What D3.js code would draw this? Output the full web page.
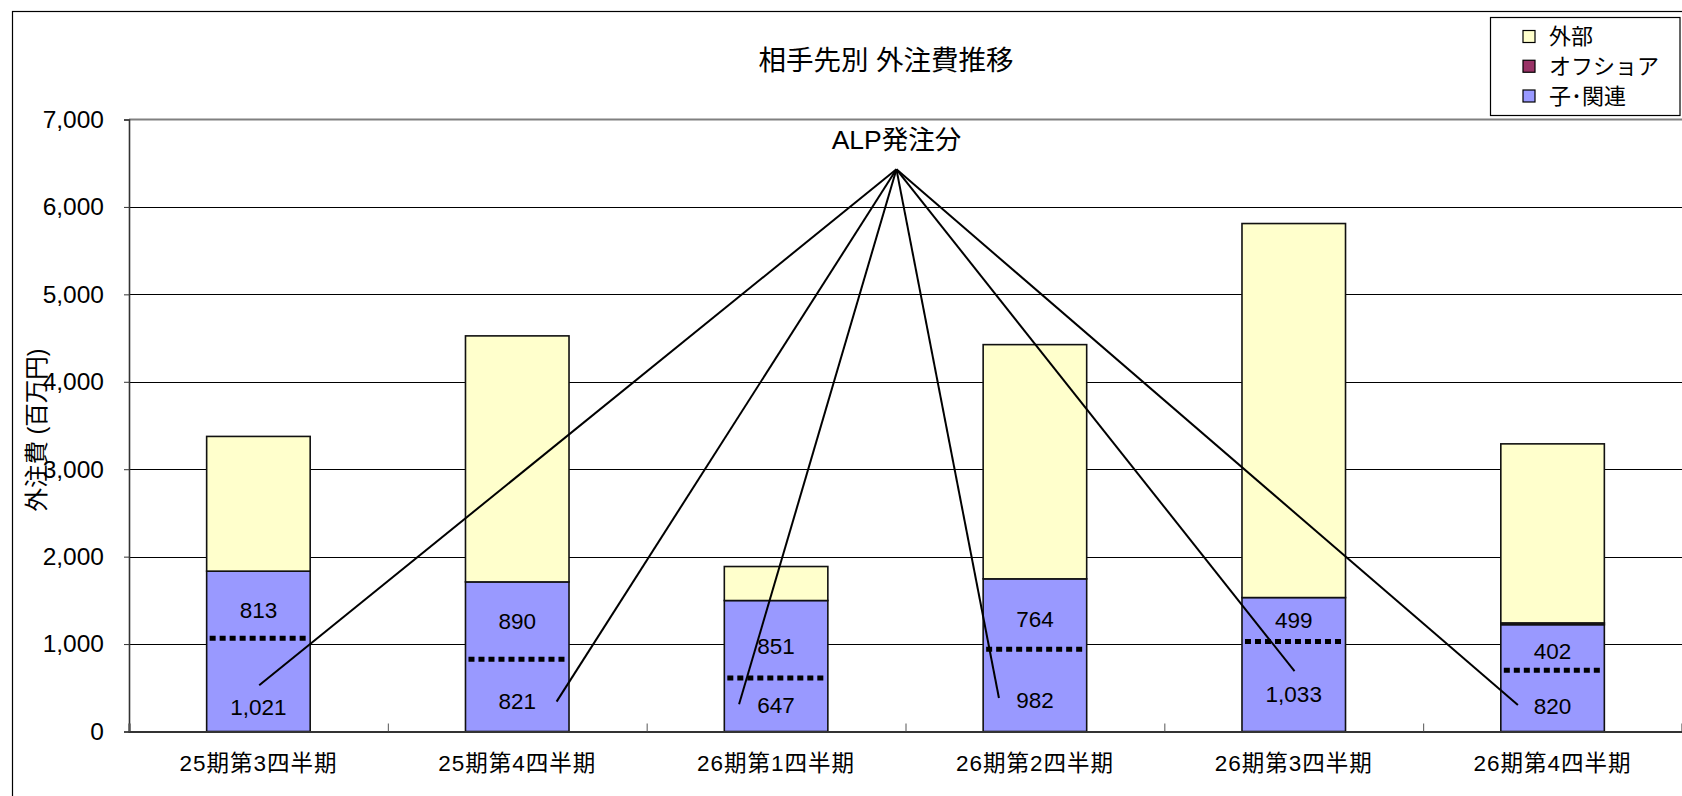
<!DOCTYPE html>
<html>
<head>
<meta charset="utf-8">
<script src="https://cdn.jsdelivr.net/npm/d3@7"></script>
<style>
  html, body { margin: 0; padding: 0; background: #fff; }
  svg { display: block; }
  text { font-family: "Liberation Sans", "Noto Sans CJK JP", sans-serif; fill: #000; }
</style>
</head>
<body>
<svg id="chart" width="1682" height="796"></svg>
<script>
// ---- data ----
const categories = ["25期第3四半期", "25期第4四半期", "26期第1四半期", "26期第2四半期", "26期第3四半期", "26期第4四半期"];
const kanrenALP   = [1021, 821, 647, 982, 1033, 820];   // 子･関連 (ALP発注分)
const kanrenOther = [813, 890, 851, 764, 499, 402];     // 子･関連 (その他)
const offshore    = [0, 0, 0, 0, 0, 20];                // オフショア
const gaibu       = [1541, 2814, 389, 2679, 4278, 2048];// 外部
const dividerVal  = [1068, 827, 612, 942, 1030, 700];   // dotted ALP dividers as drawn
const labelUpVal  = [1392, 1266, 972, 1285, 1270, 923]; // where the upper labels sit (value units)
const labelLowVal = [281, 342, 304, 362, 430, 293];     // where the lower labels sit (value units)
const yTicks = [0, 1000, 2000, 3000, 4000, 5000, 6000, 7000];
const seriesNames = ["外部", "オフショア", "子･関連"];
const title = "相手先別 外注費推移";
const yTitle = "外注費 (百万円)";
const annoText = "ALP発注分";
// annotation: leader-line ends (offset within band, value) and apex
const leaderDx  = [0.003, 0.152, -0.143, -0.139, 0.003, -0.134];
const leaderVal = [528, 342, 312, 383, 690, 302];
const apexPos = 2.965, apexVal = 6430, annoVal = 6770;

// ---- layout ----
const svg = d3.select("#chart");
const L = 129, R = 1682, T = 119.5, B = 731.5;
const colors = { kanren: "#9999FF", offshore: "#993366", gaibu: "#FFFFCC" };

const rows = categories.map((c, i) => ({
  cat: c, kanren: kanrenALP[i] + kanrenOther[i], offshore: offshore[i], gaibu: gaibu[i],
  alp: kanrenALP[i], other: kanrenOther[i], div: dividerVal[i],
  up: labelUpVal[i], low: labelLowVal[i]
}));

const x = d3.scaleBand().domain(categories).range([L, R]).paddingInner(0.6).paddingOuter(0.3);
const xLin = d3.scaleLinear().domain([0, categories.length]).range([L, R]);
const y = d3.scaleLinear().domain([0, 7000]).range([B, T]);

// outer frame
svg.append("rect").attr("x", 12.5).attr("y", 11.5).attr("width", 1700).attr("height", 800)
  .attr("fill", "none").attr("stroke", "#000").attr("stroke-width", 1.2);

// gridlines
svg.append("g").selectAll("line").data(yTicks.filter(d => d > 0 && d < 7000)).join("line")
  .attr("x1", L).attr("x2", R).attr("y1", d => Math.round(y(d)) + 0.5).attr("y2", d => Math.round(y(d)) + 0.5)
  .attr("stroke", "#000").attr("stroke-width", 1);
// plot area top border
svg.append("line").attr("x1", L).attr("x2", R).attr("y1", y(7000)).attr("y2", y(7000))
  .attr("stroke", "#808080").attr("stroke-width", 2);

// stacked bars
const stack = d3.stack().keys(["kanren", "offshore", "gaibu"]);
const stacked = stack(rows);
svg.append("g").selectAll("g").data(stacked).join("g")
  .attr("fill", d => colors[d.key])
  .selectAll("rect").data(d => d.filter(s => s[1] - s[0] > 0)).join("rect")
  .attr("x", d => x(d.data.cat))
  .attr("width", x.bandwidth())
  .attr("y", d => y(d[1]))
  .attr("height", d => y(d[0]) - y(d[1]))
  .attr("stroke", "#111").attr("stroke-width", 1.6);

// dotted separators (ALP portion)
svg.append("g").selectAll("line").data(rows).join("line")
  .attr("x1", d => x(d.cat) + 3).attr("x2", d => x(d.cat) + x.bandwidth() - 1)
  .attr("y1", d => y(d.div)).attr("y2", d => y(d.div))
  .attr("stroke", "#000").attr("stroke-width", 5).attr("stroke-dasharray", "6,4");

// axes
const yAxis = svg.append("g").attr("transform", `translate(${L},0)`)
  .call(d3.axisLeft(y).tickValues(yTicks).tickFormat(d3.format(",")).tickSize(5).tickPadding(20));
yAxis.select(".domain").attr("stroke", "#333").attr("stroke-width", 1.6);
yAxis.selectAll(".tick line").attr("stroke", "#333");
yAxis.selectAll("text").attr("font-size", 24.5);

const xTicksG = svg.append("g").attr("transform", `translate(0,${B})`)
  .call(d3.axisBottom(xLin).ticks(categories.length).tickSize(-8).tickFormat(""));
xTicksG.select(".domain").attr("stroke", "#333").attr("stroke-width", 2);
xTicksG.selectAll(".tick line").attr("stroke", "#555");

const xAxis = svg.append("g").attr("transform", `translate(0,${B})`)
  .call(d3.axisBottom(x).tickSize(0).tickPadding(24));
xAxis.select(".domain").remove();
xAxis.selectAll("text").attr("font-size", 22.5).attr("letter-spacing", 1);

// data labels
const lbl = svg.append("g").attr("font-size", 22.5).attr("text-anchor", "middle");
lbl.selectAll("text.up").data(rows).join("text").attr("class", "up")
  .attr("x", d => x(d.cat) + x.bandwidth() / 2)
  .attr("y", d => y(d.up)).attr("dy", "0.35em")
  .text(d => d3.format(",")(d.other));
lbl.selectAll("text.low").data(rows).join("text").attr("class", "low")
  .attr("x", d => x(d.cat) + x.bandwidth() / 2)
  .attr("y", d => y(d.low)).attr("dy", "0.35em")
  .text(d => d3.format(",")(d.alp));

// leader lines
const apexX = xLin(apexPos), apexY = y(apexVal);
svg.append("g").selectAll("line").data(rows).join("line")
  .attr("x1", apexX).attr("y1", apexY)
  .attr("x2", (d, i) => x(d.cat) + x.bandwidth() / 2 + leaderDx[i] * x.step())
  .attr("y2", (d, i) => y(leaderVal[i]))
  .attr("stroke", "#000").attr("stroke-width", 2);

svg.append("text").attr("x", apexX).attr("y", y(annoVal)).attr("dy", "0.35em")
  .attr("text-anchor", "middle").attr("font-size", 26.5).text(annoText);

// title
svg.append("text").attr("x", 886).attr("y", 60).attr("dy", "0.35em")
  .attr("text-anchor", "middle").attr("font-size", 27.5).text(title);

// y title
svg.append("text").attr("transform", "translate(37,430) rotate(-90)").attr("dy", "0.35em")
  .attr("text-anchor", "middle").attr("font-size", 23.5).text(yTitle);

// legend
const lg = svg.append("g");
lg.append("rect").attr("x", 1490.5).attr("y", 17.5).attr("width", 189.5).attr("height", 98)
  .attr("fill", "#fff").attr("stroke", "#000").attr("stroke-width", 1.2);
const legendColors = [colors.gaibu, colors.offshore, colors.kanren];
const ly = d3.scalePoint().domain(seriesNames).range([36.5, 96]);
const items = lg.selectAll("g.item").data(seriesNames).join("g").attr("class", "item")
  .attr("transform", d => `translate(1523,${ly(d)})`);
items.append("rect").attr("x", 0).attr("y", -6).attr("width", 12).attr("height", 12)
  .attr("fill", (d, i) => legendColors[i]).attr("stroke", "#000").attr("stroke-width", 1.2);
items.append("text").attr("x", 26).attr("dy", "0.35em").attr("font-size", 22).text(d => d);
</script>
</body>
</html>
